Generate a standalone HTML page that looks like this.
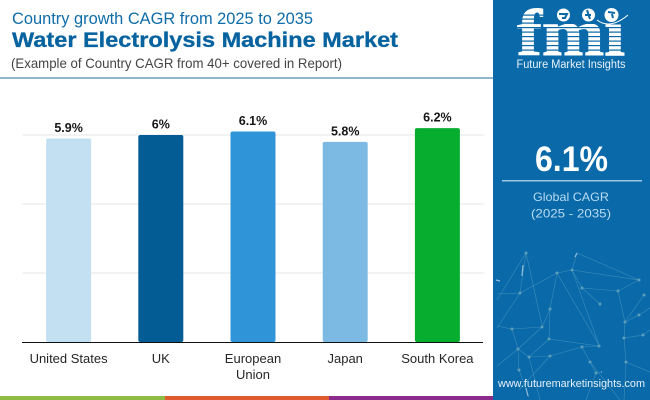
<!DOCTYPE html>
<html lang="en">
<head>
<meta charset="utf-8">
<title>Water Electrolysis Machine Market</title>
<style>
html,body{margin:0;padding:0;background:#fff;}
#stage{position:relative;width:650px;height:400px;overflow:hidden;background:#fff;font-family:"Liberation Sans",sans-serif;}
svg{position:absolute;left:0;top:0;display:block;}
</style>
</head>
<body>
<div id="stage">
<svg id="chart" width="650" height="400" viewBox="0 0 650 400" xmlns="http://www.w3.org/2000/svg">
  <g>
    <text x="12" y="24" font-size="17" fill="#0f6ca8" textLength="301" lengthAdjust="spacingAndGlyphs">Country growth CAGR from 2025 to 2035</text>
    <text x="12" y="47" font-size="21" font-weight="700" fill="#07639f" stroke="#07639f" stroke-width="0.3" textLength="386" lengthAdjust="spacingAndGlyphs">Water Electrolysis Machine Market</text>
    <text x="11" y="68" font-size="14" fill="#444" textLength="331" lengthAdjust="spacingAndGlyphs">(Example of Country CAGR from 40+ covered in Report)</text>
    <rect x="0" y="77" width="494" height="2" fill="#8fb6cc"/>
  </g>
  <g id="grid"></g>
  <g id="bars"></g>
  <g id="labels"></g>
  <g id="cats"></g>
  <rect x="22" y="342" width="461" height="1" fill="#111"/>

  <g>
    <rect x="0" y="396" width="165" height="4" fill="#8dbb43"/>
    <rect x="165" y="396" width="164" height="4" fill="#e15b30"/>
    <rect x="329" y="396" width="165" height="4" fill="#8b2c8c"/>
  </g>

  <rect x="493" y="0" width="157" height="400" fill="#0a69a9"/>

  <g stroke="#5fa6c6" stroke-width="0.6" fill="none" opacity="0.6">
    <path d="M526 253L520 293L497 328M526 253L542 325M526 253L497 300M520 293L557 273L572 270L639 280M520 293L497 294M557 273L550 309L542 327L512 329L497 326M557 273L599 345L572 270M572 270L577 253L639 280M572 270L582 288L618 291L639 280M582 288L600 304M618 291L625 322L644 295M625 322L639 315L650 308M625 322L624 338L643 335L650 330M624 338L626 362L650 372M626 362L624 400M618 291L625 322M550 309L549 339L599 346L582 347L550 356L529 357L518 349L512 329M549 339L529 357M542 327L518 349L497 366M518 349L519 370L529 397M529 357L540 400M550 356L519 390M582 347L590 362L596 373L601 372M596 373L586 400M590 362L620 400"/>
    <g fill="#8fc2c8" stroke="none">
      <circle cx="526" cy="253" r="1.5"/><circle cx="520" cy="293" r="1.5"/><circle cx="557" cy="273" r="1.5"/><circle cx="572" cy="270" r="1.5"/><circle cx="639" cy="280" r="1.5"/><circle cx="582" cy="288" r="1.5"/><circle cx="618" cy="291" r="1.5"/><circle cx="600" cy="304" r="1.5"/><circle cx="644" cy="295" r="1.5"/><circle cx="550" cy="309" r="1.5"/><circle cx="625" cy="322" r="1.5"/><circle cx="639" cy="315" r="1.5"/><circle cx="512" cy="329" r="1.5"/><circle cx="542" cy="327" r="1.5"/><circle cx="549" cy="339" r="1.5"/><circle cx="599" cy="346" r="1.5"/><circle cx="582" cy="347" r="1.5"/><circle cx="624" cy="338" r="1.5"/><circle cx="518" cy="349" r="1.5"/><circle cx="529" cy="357" r="1.5"/><circle cx="550" cy="356" r="1.5"/><circle cx="590" cy="362" r="1.5"/><circle cx="626" cy="362" r="1.5"/><circle cx="519" cy="370" r="1.5"/><circle cx="596" cy="373" r="1.5"/><circle cx="643" cy="335" r="1.5"/>
    </g>
    <path d="M577 253L575 257M496 280L500 281M523 265L522 276M601 372L602 372M526 388L528 396" stroke="#e8f4fa" stroke-width="1.2"/>
  </g>

  <g>
    <text x="571" y="55" text-anchor="middle" font-family="Liberation Serif, serif" font-weight="700" font-size="66" fill="#ffffff" stroke="#ffffff" stroke-width="1" textLength="108" lengthAdjust="spacingAndGlyphs">fmi</text>
    <g fill="#0a69a9">
      <rect x="510" y="14.5" width="50" height="1.2"/><rect x="510" y="18.5" width="50" height="1.2"/><rect x="510" y="22.5" width="120" height="1.2"/><rect x="510" y="27" width="120" height="1.2"/><rect x="510" y="31.5" width="120" height="1.2"/><rect x="510" y="36" width="120" height="1.2"/><rect x="510" y="40.5" width="120" height="1.2"/><rect x="510" y="45" width="120" height="1.2"/><rect x="510" y="49.5" width="120" height="1.2"/>
    </g>
    <rect x="552" y="2" width="72" height="22" fill="#0a69a9"/>
    <circle cx="563.5" cy="15" r="6.5" fill="#fff"/>
    <circle cx="588.5" cy="15" r="6.5" fill="#fff"/>
    <circle cx="611.5" cy="15" r="7" fill="#fff"/>
    <path d="M559 14h8l-2 4h-3M587 10l3 9M585 15h6M608 12l7 1M612 14l1 4" stroke="#0a69a9" stroke-width="2" fill="none"/>
    <path d="M597 20Q610 30 628 15" stroke="#fff" stroke-width="1" fill="none"/>
    <text x="571" y="68" text-anchor="middle" font-size="11.5" fill="#e8f3fa" textLength="109" lengthAdjust="spacingAndGlyphs">Future Market Insights</text>
  </g>

  <g text-anchor="middle">
    <text x="571.5" y="171" font-size="35" font-weight="700" fill="#fff" textLength="73" lengthAdjust="spacingAndGlyphs">6.1%</text>
    <rect x="502" y="180" width="140" height="1.5" fill="#9cc8e6"/>
    <text x="571" y="201" font-size="12" fill="#b8dcf3" textLength="76" lengthAdjust="spacingAndGlyphs">Global CAGR</text>
    <text x="571" y="217.5" font-size="12" fill="#b8dcf3" textLength="80" lengthAdjust="spacingAndGlyphs">(2025 - 2035)</text>
  </g>
  <text x="571.5" y="387" text-anchor="middle" font-size="11" fill="#e6f2fa" textLength="147" lengthAdjust="spacingAndGlyphs">www.futuremarketinsights.com</text>
</svg>
</div>
<script>
const categories = [["United States"], ["UK"], ["European", "Union"], ["Japan"], ["South Korea"]];
const cagrValues = [5.9, 6, 6.1, 5.8, 6.2];
const valueLabels = ["5.9%", "6%", "6.1%", "5.8%", "6.2%"];
const barColors = ["#c3e0f3", "#045c94", "#3094d8", "#7dbae3", "#07ad2f"];
const gridTicks = [2, 4, 6];

const NS = "http://www.w3.org/2000/svg";
const plotLeft = 22.5, plotRight = 483.5, plotBottom = 342, unitHeight = 34.5, barWidth = 45;
const bandWidth = (plotRight - plotLeft) / categories.length;
function xCenter(i) { return plotLeft + bandWidth * (i + 0.5); }
function yPos(v) { return plotBottom - v * unitHeight; }
function make(tag, attrs, parent) {
  const el = document.createElementNS(NS, tag);
  for (const k in attrs) el.setAttribute(k, attrs[k]);
  parent.appendChild(el);
  return el;
}
const gridG = document.getElementById("grid");
const barsG = document.getElementById("bars");
const labelsG = document.getElementById("labels");
const catsG = document.getElementById("cats");

gridTicks.forEach(function (t) {
  const line = make("line", { x1: plotLeft, x2: plotRight, y1: yPos(t), y2: yPos(t), stroke: "#e3e5e8", "stroke-width": 1 }, gridG);
  
  
});

cagrValues.forEach(function (v, i) {
  const top = yPos(v);
  const cx = xCenter(i);
  const bar = make("rect", { x: cx - barWidth / 2, y: top, width: barWidth, height: plotBottom - top, rx: 2, fill: barColors[i] }, barsG);
  
  

  const label = make("text", { x: cx, y: top - 6.5, "text-anchor": "middle", "font-size": 12.5, "font-weight": 700, fill: "#161616" }, labelsG);
  label.textContent = valueLabels[i];
  
  

  const cat = make("text", { "text-anchor": "middle", "font-size": 13, fill: "#262626" }, catsG);
  
  
  categories[i].forEach(function (part, j) {
    const span = make("tspan", { x: cx, y: 363 + j * 16 }, cat);
    span.textContent = part;
    
    
  });
});
</script>
</body>
</html>
